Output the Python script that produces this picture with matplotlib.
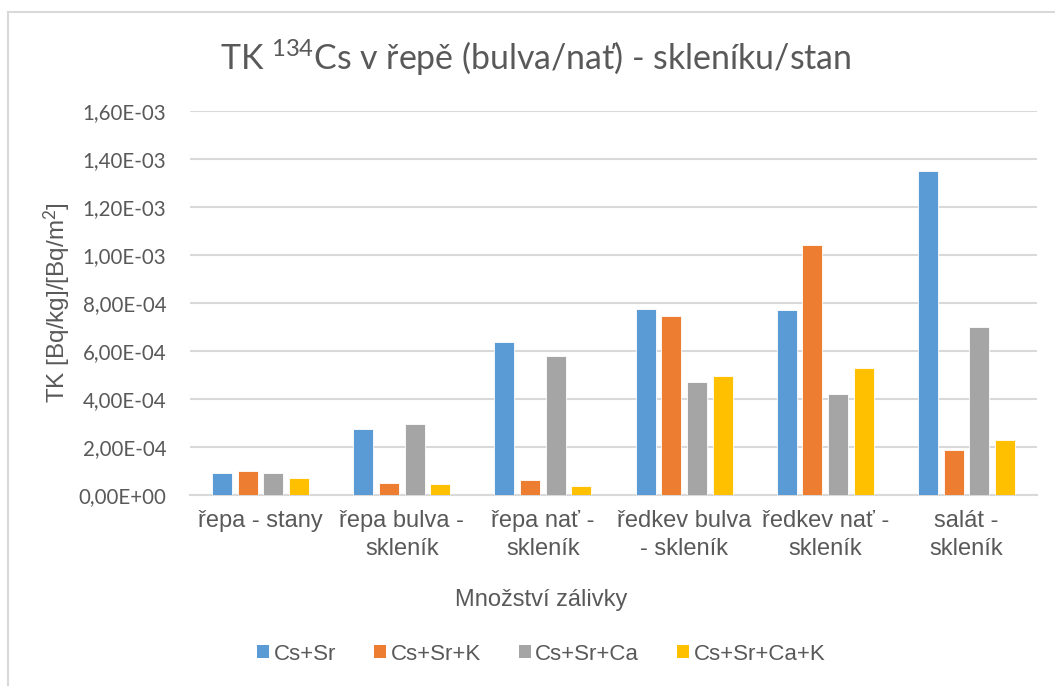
import numpy as np
import matplotlib
matplotlib.use('Agg')
import matplotlib.pyplot as plt
from matplotlib.ticker import FuncFormatter
from matplotlib.lines import Line2D
from matplotlib.patches import Patch

# Data
categories = ['řepa - stany', 'řepa bulva -\nskleník', 'řepa nať -\nskleník',
              'ředkev bulva\n- skleník', 'ředkev nať -\nskleník', 'salát -\nskleník']
series_names = ['Cs+Sr', 'Cs+Sr+K', 'Cs+Sr+Ca', 'Cs+Sr+Ca+K']
cs_sr = [9.0e-5, 2.75e-4, 6.36e-4, 7.75e-4, 7.70e-4, 1.349e-3]
cs_sr_k = [1.0e-4, 5.0e-5, 6.4e-5, 7.46e-4, 1.043e-3, 1.88e-4]
cs_sr_ca = [9.0e-5, 2.97e-4, 5.79e-4, 4.71e-4, 4.21e-4, 6.99e-4]
cs_sr_ca_k = [7.1e-5, 4.6e-5, 3.8e-5, 4.96e-4, 5.28e-4, 2.29e-4]
colors = ['#5B9BD5', '#ED7D31', '#A5A5A5', '#FFC000']

text_col = '#595959'
plt.rcParams['mathtext.fontset'] = 'custom'
plt.rcParams['mathtext.rm'] = 'Lato'
plt.rcParams['mathtext.it'] = 'Lato'

fig = plt.figure(figsize=(10.55, 6.86), dpi=100)
ax = fig.add_axes([190 / 1055, 1 - 495 / 686, 847 / 1055, 384 / 686])

x = np.arange(len(categories))
width = 0.142
pitch = 0.182
for i, (vals, c) in enumerate(zip([cs_sr, cs_sr_k, cs_sr_ca, cs_sr_ca_k], colors)):
    ax.bar(x + (i - 1.5) * pitch, vals, width, color=c, edgecolor='white',
           linewidth=0.6, zorder=3, label=series_names[i])

ax.set_xlim(-0.5, len(categories) - 0.5)
ax.set_ylim(0, 1.6e-3)
ax.set_yticks(np.arange(0, 1.61e-3, 2e-4))
ax.yaxis.set_major_formatter(FuncFormatter(lambda v, p: f'{v:.2E}'.replace('.', ',')))
ax.grid(axis='y', color='#D9D9D9', linewidth=1.5, zorder=0)
ax.set_axisbelow(True)
for s in ['top', 'right', 'left']:
    ax.spines[s].set_visible(False)
ax.spines['bottom'].set_color('#D9D9D9')
ax.spines['bottom'].set_linewidth(1.5)
ax.tick_params(axis='y', length=0, pad=17, labelsize=14.8, labelcolor=text_col)
ax.tick_params(axis='x', length=0, pad=11, labelsize=17, labelcolor=text_col)
for t in ax.get_yticklabels():
    t.set_family('Lato')
ax.set_xticks(x)
ax.set_xticklabels(categories, family='Liberation Sans', linespacing=1.35)

fig.text(0.508, 1 - 58 / 686, r'TK $^{134}$Cs v řepě (bulva/nať) - skleníku/stan',
         ha='center', va='center', fontsize=24.4, color=text_col, family='Lato')
fig.text(57 / 1055, 1 - 303 / 686, r'TK [Bq/kg]/[Bq/m$^2$]', rotation=90,
         ha='center', va='center', fontsize=17.5, color=text_col, family='Liberation Sans')
fig.text(0.513, 1 - 600 / 686, 'Množství zálivky', ha='center', va='center',
         fontsize=17, color=text_col, family='Liberation Sans')

handles = [Patch(facecolor=c, edgecolor='none') for c in colors]
leg = fig.legend(handles, series_names, loc='center', bbox_to_anchor=(0.513, 1 - 654 / 686),
                 ncol=4, frameon=False, handlelength=0.55, handleheight=0.55,
                 handletextpad=0.2, columnspacing=1.7,
                 prop={'family': 'Liberation Sans', 'size': 16})
for t in leg.get_texts():
    t.set_color(text_col)

# chart border (top and left visible)
fig.add_artist(Line2D([8 / 1055, 1], [1 - 12 / 686, 1 - 12 / 686], color='#D9D9D9', lw=1.5))
fig.add_artist(Line2D([8 / 1055, 8 / 1055], [0, 1 - 12 / 686], color='#D9D9D9', lw=1.5))

fig.savefig('out.png', dpi=100, facecolor='white')
